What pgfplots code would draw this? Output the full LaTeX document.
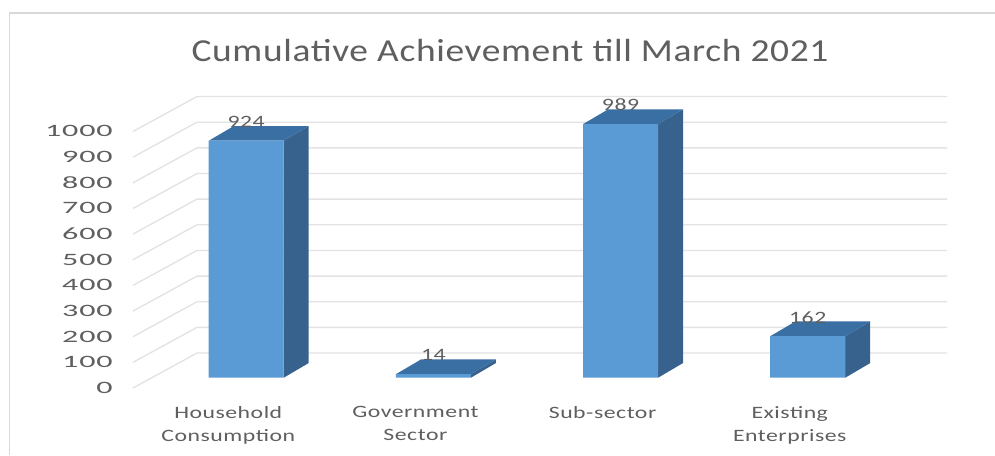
\documentclass[border=0pt]{standalone}
\usepackage{pgfplots}
\usepackage{pgfplotstable}
\usepackage{fontspec}
\pgfplotsset{compat=1.18}
\setmainfont[FakeStretch=1.37,LetterSpace=3]{Carlito}
\newfontfamily\titlefont[FakeStretch=1.17,LetterSpace=2]{Carlito}
\newfontfamily\scalefont[FakeStretch=1.85,LetterSpace=5]{Carlito}
\definecolor{barfront}{HTML}{5B9BD5}
\definecolor{barside}{HTML}{38628E}
\definecolor{bartop}{HTML}{3A6FA3}
\definecolor{wallgrid}{HTML}{E3E3E3}
\definecolor{inktext}{HTML}{5F5F5F}
\definecolor{framegray}{HTML}{D9D9D9}

\pgfplotstableread{
x v
0 924
1 14
2 989
3 162
}\achievement

\begin{document}
\begin{tikzpicture}
\path[use as bounding box] (0pt,0pt) rectangle (746.25pt,341.25pt);
\fill[white] (0pt,0pt) rectangle (746.25pt,341.25pt);
% outer frame of the chart area
\draw[framegray,line width=0.9pt] (7pt,0pt) -- (7pt,331.5pt) -- (746.25pt,331.5pt);
\node[inktext,font=\titlefont\fontsize{24}{28}\selectfont,anchor=center] at (382.5pt,303pt)
  {Cumulative Achievement till March 2021};
\begin{axis}[
  at={(88.5pt,50.25pt)},anchor=south west,
  scale only axis,width=621.75pt,height=218.6pt,
  xmin=-0.685,xmax=3.744,ymin=-40,ymax=1096.3,
  clip=false,
  axis line style={draw=none},
  tick style={draw=none},
  xtick={-0.096,0.904,1.904,2.904},
  xticklabels={{Household\\Consumption},{Government\\Sector},{Sub-sector},{Existing\\Enterprises}},
  xticklabel style={align=center,anchor=north,text=inktext,font=\fontsize{13}{17}\selectfont,yshift=-10.5pt},
  ytick={0,100,...,1000},
  yticklabel style={text=inktext,font=\scalefont\fontsize{13}{15}\selectfont,yshift=-7.6pt,xshift=-0.5pt},
  /pgf/number format/assume math mode=true,
  /pgf/number format/1000 sep={},
  unbounded coords=jump,
]
% floor-to-back wall gridlines, one for each hundred
\addplot[wallgrid,line width=1pt] coordinates {
  (-0.605,-40)(-0.263,96.3)(3.744,96.3) (nan,nan)
  (-0.605,60)(-0.263,196.3)(3.744,196.3) (nan,nan)
  (-0.605,160)(-0.263,296.3)(3.744,296.3) (nan,nan)
  (-0.605,260)(-0.263,396.3)(3.744,396.3) (nan,nan)
  (-0.605,360)(-0.263,496.3)(3.744,496.3) (nan,nan)
  (-0.605,460)(-0.263,596.3)(3.744,596.3) (nan,nan)
  (-0.605,560)(-0.263,696.3)(3.744,696.3) (nan,nan)
  (-0.605,660)(-0.263,796.3)(3.744,796.3) (nan,nan)
  (-0.605,760)(-0.263,896.3)(3.744,896.3) (nan,nan)
  (-0.605,860)(-0.263,996.3)(3.744,996.3) (nan,nan)
  (-0.605,960)(-0.263,1096.3)(3.744,1096.3)
};
% value labels sit behind the tops of the columns
\addplot[draw=none,mark=none,
  nodes near coords,point meta=y,
  nodes near coords style={anchor=center,yshift=14.2pt,text=inktext,font=\fontsize{13}{15}\selectfont,
    /pgf/number format/assume math mode=true}]
  table[x=x,y=v]{\achievement};
% column 1
\addplot[fill=barside,draw=none] coordinates {(0.2,0)(0.3337,57.3)(0.3337,981.3)(0.2,924)};
\addplot[fill=bartop,draw=none] coordinates {(-0.2,924)(0.2,924)(0.3337,981.3)(-0.0663,981.3)};
% column 2
\addplot[fill=barside,draw=none] coordinates {(1.2,0)(1.3337,57.3)(1.3337,71.3)(1.2,14)};
\addplot[fill=bartop,draw=none] coordinates {(0.8,14)(1.2,14)(1.3337,71.3)(0.9337,71.3)};
% column 3
\addplot[fill=barside,draw=none] coordinates {(2.2,0)(2.3337,57.3)(2.3337,1046.3)(2.2,989)};
\addplot[fill=bartop,draw=none] coordinates {(1.8,989)(2.2,989)(2.3337,1046.3)(1.9337,1046.3)};
% column 4
\addplot[fill=barside,draw=none] coordinates {(3.2,0)(3.3337,57.3)(3.3337,219.3)(3.2,162)};
\addplot[fill=bartop,draw=none] coordinates {(2.8,162)(3.2,162)(3.3337,219.3)(2.9337,219.3)};
% column fronts
\addplot[ybar,bar width=56.25pt,bar shift=0pt,fill=barfront,draw=none] table[x=x,y=v]{\achievement};
\end{axis}
\end{tikzpicture}
\end{document}
